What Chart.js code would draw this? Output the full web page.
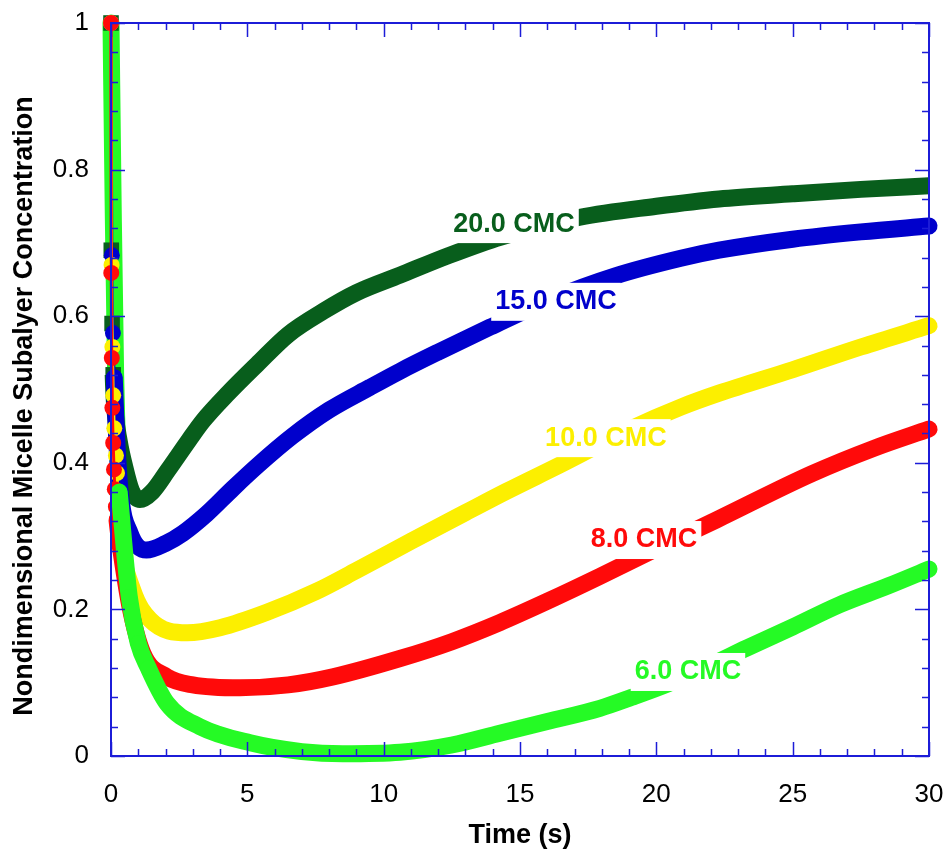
<!DOCTYPE html>
<html>
<head>
<meta charset="utf-8">
<script src="https://cdn.jsdelivr.net/npm/chart.js@4.4.0/dist/chart.umd.min.js"></script>
<style>
	html, body { margin: 0; padding: 0; background: #fff; }
	#wrap { width: 948px; height: 859px; }
</style>
</head>
<body>
<div id="wrap"><canvas id="grafico" width="948" height="859"></canvas></div>
<script>
// valores (tempo em s, concentracao adimensional)
var tempo_20 = [0, 0.01, 0.04, 0.08, 0.15, 0.3, 0.5, 0.75, 1.06, 1.5, 2.09, 2.86, 3.37, 4.3, 5.35, 6.5, 7.8, 9.0, 10.6, 12.4, 14.3, 17.2, 20.0, 22.3, 25.0, 27.5, 30.0];
var conc_20 = [1.0, 0.69, 0.59, 0.52, 0.47, 0.43, 0.395, 0.362, 0.35, 0.36, 0.39, 0.431, 0.457, 0.495, 0.534, 0.575, 0.607, 0.632, 0.656, 0.683, 0.708, 0.735, 0.75, 0.76, 0.767, 0.773, 0.778];

var tempo_15 = [0, 0.03, 0.07, 0.12, 0.2, 0.33, 0.7, 1.3, 2.0, 2.64, 3.5, 4.47, 5.4, 6.64, 8.0, 9.5, 10.6, 12.0, 13.9, 16.0, 18.5, 20.9, 22.3, 25.0, 27.5, 30.0];
var conc_15 = [1.0, 0.683, 0.577, 0.516, 0.44, 0.363, 0.304, 0.281, 0.29, 0.304, 0.33, 0.365, 0.397, 0.436, 0.472, 0.503, 0.525, 0.551, 0.585, 0.621, 0.655, 0.679, 0.69, 0.705, 0.715, 0.723];

var tempo_10 = [0, 0.02, 0.05, 0.08, 0.12, 0.18, 0.22, 0.27, 0.35, 0.8, 1.43, 2.8, 4.0, 5.72, 7.5, 9.0, 11.0, 13.0, 14.5, 16.46, 19.1, 20.9, 22.3, 25.0, 27.5, 30.0];
var conc_10 = [1.0, 0.67, 0.558, 0.492, 0.447, 0.41, 0.386, 0.33, 0.295, 0.226, 0.186, 0.168, 0.175, 0.196, 0.224, 0.253, 0.293, 0.332, 0.361, 0.397, 0.447, 0.476, 0.495, 0.527, 0.558, 0.587];

var tempo_8 = [0, 0.01, 0.03, 0.05, 0.08, 0.11, 0.14, 0.18, 0.22, 0.4, 0.7, 1.17, 2.05, 3.0, 4.73, 6.5, 8.14, 10.6, 12.5, 14.26, 16.0, 17.93, 20.0, 22.2, 25.7, 28.0, 30.0];
var conc_8 = [1.0, 0.659, 0.543, 0.475, 0.427, 0.391, 0.364, 0.34, 0.322, 0.271, 0.203, 0.14, 0.108, 0.097, 0.093, 0.097, 0.108, 0.133, 0.156, 0.182, 0.211, 0.245, 0.283, 0.322, 0.385, 0.42, 0.446];

var tempo_6 = [0, 0.08, 0.17, 0.3, 0.67, 1.0, 1.37, 2.05, 3.26, 5.1, 7.0, 8.5, 10.6, 12.5, 14.26, 16.0, 17.93, 19.1, 20.4, 22.0, 23.3, 25.0, 26.7, 28.5, 30.0];
var conc_6 = [1.0, 0.75, 0.52, 0.36, 0.217, 0.154, 0.12, 0.072, 0.04, 0.018, 0.006, 0.003, 0.005, 0.015, 0.031, 0.047, 0.065, 0.08, 0.098, 0.124, 0.147, 0.176, 0.206, 0.232, 0.255];

var ticks_x = [0, 5, 10, 15, 20, 25, 30];
var ticks_y = [0, 0.2, 0.4, 0.6, 0.8, 1];

var titulo_x = "Time (s)";
var titulo_y = "Nondimensional Micelle Subalyer Concentration";

// rotulos das curvas (posicao em coordenadas do grafico)
var rotulos = [
	{ texto: "20.0 CMC", x: 14.78, y: 0.727, cor: "#085E1C" },
	{ texto: "15.0 CMC", x: 16.32, y: 0.621, cor: "#0000CC" },
	{ texto: "10.0 CMC", x: 18.15, y: 0.435, cor: "#FCEF00" },
	{ texto: "8.0 CMC", x: 19.55, y: 0.296, cor: "#FF0A0A" },
	{ texto: "6.0 CMC", x: 21.16, y: 0.116, cor: "#25FA25" },
];

var fonte = "'Liberation Sans', Arial, sans-serif";
var cor_eixo = "#1C1CD8";

function pontos(xs, ys) {
	return xs.map(function (x, i) {
		return { x: x, y: ys[i] };
	});
}

// marcador: ate onde aparecem os marcadores soltos
// fino: antes desse tempo a linha e so um traco fino entre os marcadores
function serie(nome, dados, cor, estilo, raio, marcador, fino) {
	return {
		label: nome,
		data: dados,
		borderColor: cor,
		backgroundColor: cor,
		pointBackgroundColor: cor,
		pointBorderWidth: 0,
		pointRadius: function (c) {
			return c.raw && c.raw.x <= marcador ? raio : 0;
		},
		pointStyle: estilo,
		borderWidth: 17,
		segment: {
			borderWidth: function (s) {
				return s.p0.parsed.x < fino ? 3 : 17;
			},
		},
		borderCapStyle: estilo == "rect" ? "butt" : "round",
		borderJoinStyle: "round",
		cubicInterpolationMode: "monotone",
		clip: false,
	};
}

// a queda inicial da curva de 6.0 CMC fica por baixo das outras curvas
var corte_6 = tempo_6.indexOf(0.3);
var inicio_6 = pontos(tempo_6.slice(0, corte_6 + 1), conc_6.slice(0, corte_6 + 1));
var resto_6 = pontos(tempo_6.slice(corte_6), conc_6.slice(corte_6));

var moldura = {
	id: "moldura",
	afterDatasetsDraw(chart) {
		var ctx = chart.ctx;
		var xs = chart.scales.x;
		var ys = chart.scales.y;
		ctx.save();
		ctx.font = "bold 27px " + fonte;
		ctx.textAlign = "center";
		ctx.textBaseline = "middle";
		rotulos.forEach(function (r) {
			var px = xs.getPixelForValue(r.x);
			var py = ys.getPixelForValue(r.y);
			var w = ctx.measureText(r.texto).width;
			ctx.fillStyle = "#FFFFFF";
			ctx.fillRect(px - w / 2 - 4, py - 18, w + 8, 38);
			ctx.fillStyle = r.cor;
			ctx.fillText(r.texto, px, py + 1);
		});
		ctx.restore();
	},
	afterDraw(chart) {
		var ctx = chart.ctx;
		var a = chart.chartArea;
		var xs = chart.scales.x;
		var ys = chart.scales.y;
		ctx.save();
		ctx.strokeStyle = cor_eixo;
		ctx.lineWidth = 2;
		ctx.strokeRect(a.left, a.top, a.right - a.left, a.bottom - a.top);
		ctx.lineWidth = 1.5;
		ctx.beginPath();
		for (var i = 0; i <= 30; i++) {
			var px = Math.round(xs.getPixelForValue(i)) + 0.5;
			var t = i % 5 == 0 ? 14 : 7;
			ctx.moveTo(px, a.bottom);
			ctx.lineTo(px, a.bottom - t);
			ctx.moveTo(px, a.top);
			ctx.lineTo(px, a.top + t);
		}
		for (var j = 0; j <= 25; j++) {
			var py = Math.round(ys.getPixelForValue(j * 0.04)) + 0.5;
			var t2 = j % 5 == 0 ? 14 : 7;
			ctx.moveTo(a.left, py);
			ctx.lineTo(a.left + t2, py);
			ctx.moveTo(a.right, py);
			ctx.lineTo(a.right - t2, py);
		}
		ctx.stroke();

		// titulo do eixo y
		ctx.fillStyle = "#000";
		ctx.font = "bold 27px " + fonte;
		ctx.textAlign = "center";
		ctx.textBaseline = "middle";
		ctx.translate(25, 406);
		ctx.rotate(-Math.PI / 2);
		ctx.fillText(titulo_y, 0, 0);
		ctx.restore();
	},
};

var grafico = new Chart(document.getElementById("grafico"), {
	type: "line",
	data: {
		datasets: [
			serie("6.0 CMC", resto_6, "#25FA25", "circle", 8, 1.4, -1),
			serie("8.0 CMC", pontos(tempo_8, conc_8), "#FF0A0A", "circle", 8, 0.22, 0.22),
			serie("10.0 CMC", pontos(tempo_10, conc_10), "#FCEF00", "circle", 8, 0.27, 0.27),
			serie("15.0 CMC", pontos(tempo_15, conc_15), "#0000CC", "circle", 8, 0.12, 0.12),
			serie("20.0 CMC", pontos(tempo_20, conc_20), "#085E1C", "rect", 11, 0.08, 0.08),
			serie("6.0 CMC", inicio_6, "#25FA25", "circle", 8, 0, -1),
		],
	},
	options: {
		responsive: false,
		animation: false,
		events: [],
		layout: {
			autoPadding: false,
			padding: { top: 23, right: 19, left: 0, bottom: 0 },
		},
		plugins: {
			legend: { display: false },
			tooltip: { enabled: false },
		},
		scales: {
			x: {
				type: "linear",
				min: 0,
				max: 30,
				afterBuildTicks: function (s) {
					s.ticks = ticks_x.map(function (v) { return { value: v }; });
				},
				afterFit: function (s) {
					s.height = 103;
					s.paddingLeft = 0;
					s.paddingRight = 0;
				},
				ticks: {
					color: "#000",
					font: { family: fonte, size: 26 },
					padding: 23,
					maxRotation: 0,
					autoSkip: false,
				},
				grid: { display: false, drawTicks: false },
				border: { display: false },
				title: {
					display: true,
					text: titulo_x,
					color: "#000",
					font: { family: fonte, size: 27, weight: "bold" },
					padding: { top: 0, bottom: 7 },
				},
			},
			y: {
				type: "linear",
				min: 0,
				max: 1,
				afterBuildTicks: function (s) {
					s.ticks = ticks_y.map(function (v) { return { value: v }; });
				},
				afterFit: function (s) {
					s.width = 111;
					s.paddingTop = 0;
					s.paddingBottom = 0;
				},
				ticks: {
					color: "#000",
					font: { family: fonte, size: 26 },
					padding: 22,
					autoSkip: false,
					callback: function (v) {
						return String(+Number(v).toFixed(2));
					},
				},
				grid: { display: false, drawTicks: false },
				border: { display: false },
			},
		},
	},
	plugins: [moldura],
});
</script>
</body>
</html>
